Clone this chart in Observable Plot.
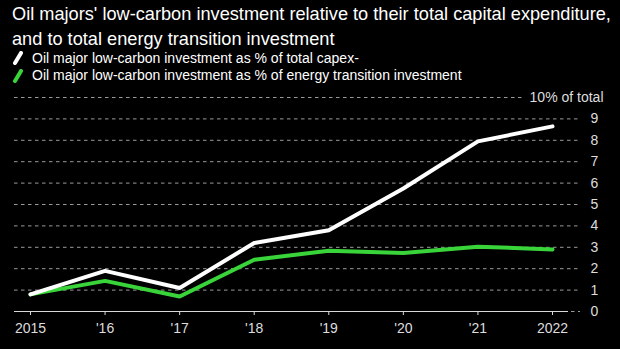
<!DOCTYPE html>
<html>
<head>
<meta charset="utf-8">
<script src="https://cdn.jsdelivr.net/npm/d3@7"></script>
<script src="https://cdn.jsdelivr.net/npm/@observablehq/plot@0.6"></script>
<style>
  html, body { margin: 0; padding: 0; background: #000; }
  body { width: 620px; height: 349px; overflow: hidden; font-family: "Liberation Sans", Arial, sans-serif; color: #fff; }
  #title { position: absolute; left: 12px; top: 2px; font-size: 18.2px; line-height: 25px; color: #fff; }
  #legend { position: absolute; left: 13px; top: 49.5px; font-size: 14px; line-height: 17.5px; color: #fff; }
  .row { display: flex; align-items: center; white-space: nowrap; }
  .row svg { margin-right: 9px; }
  #chart { position: absolute; left: 0; top: 85px; }
</style>
</head>
<body>
<div id="title">Oil majors' low-carbon investment relative to their total capital expenditure,<br>and to total energy transition investment</div>
<div id="legend"></div>
<div id="chart"></div>
<script>
const years = [2015, 2016, 2017, 2018, 2019, 2020, 2021, 2022];
const shareOfCapex = [0.8, 1.9, 1.1, 3.2, 3.8, 5.75, 7.95, 8.65];
const shareOfTransition = [0.8, 1.43, 0.7, 2.42, 2.84, 2.73, 3.03, 2.9];
const seriesNames = [
  "Oil major low-carbon investment as % of total capex-",
  "Oil major low-carbon investment as % of energy transition investment"
];
const seriesColors = ["#ffffff", "#39d43a"];
const yTicks = [0, 1, 2, 3, 4, 5, 6, 7, 8, 9];
const xTickLabels = ["2015", "'16", "'17", "'18", "'19", "'20", "'21", "2022"];
const topLabel = "10% of total";

// legend
const legend = document.getElementById("legend");
seriesNames.forEach((name, i) => {
  const row = document.createElement("div");
  row.className = "row";
  row.innerHTML = `<svg width="10" height="14"><line x1="2" y1="12" x2="8" y2="2" stroke="${seriesColors[i]}" stroke-width="4" stroke-linecap="round"/></svg><span>${name}</span>`;
  legend.appendChild(row);
});

const data = [];
years.forEach((y, i) => {
  data.push({year: y, value: shareOfTransition[i], series: seriesNames[1]});
});
years.forEach((y, i) => {
  data.push({year: y, value: shareOfCapex[i], series: seriesNames[0]});
});

const chart = Plot.plot({
  width: 620,
  height: 264,
  marginLeft: 14,
  marginRight: 40,
  marginTop: 12,
  marginBottom: 38,
  style: {background: "#000", color: "#ddd", fontSize: "14px", fontFamily: "Liberation Sans, Arial, sans-serif"},
  x: {domain: [2015, 2022], insetLeft: 16, insetRight: 28, label: null},
  y: {domain: [0, 10], label: null},
  color: {domain: seriesNames, range: seriesColors},
  marks: [
    Plot.ruleY(yTicks.filter(d => d > 0), {stroke: "#9a9a9a", strokeWidth: 1, strokeDasharray: "3.5,3.5"}),
    Plot.ruleY([10], {stroke: "#9a9a9a", strokeWidth: 1, strokeDasharray: "3.5,3.5", insetRight: 57}),
    Plot.ruleY([0], {stroke: "#9a9a9a", strokeWidth: 1, strokeDasharray: "3.5,3.5", insetLeft: 557}),
    Plot.ruleY([0], {stroke: "#d9d9d9", strokeWidth: 1.2, insetRight: 12}),
    Plot.axisX(years, {
      tickSize: 4, tickPadding: 8, stroke: "#d9d9d9", label: null,
      tickFormat: d => xTickLabels[years.indexOf(d)], fill: "#ddd", fontSize: 14
    }),
    Plot.axisY(yTicks, {anchor: "right", tickSize: 0, tickPadding: 10, textAnchor: "start", fill: "#ddd", fontSize: 14, label: null}),
    Plot.text([topLabel], {frameAnchor: "right", y: () => 10, dx: 23, textAnchor: "end", fill: "#ddd", fontSize: 14}),
    Plot.line(data, {x: "year", y: "value", z: "series", stroke: "series", strokeWidth: 4, strokeLinecap: "round", strokeLinejoin: "miter"})
  ]
});
document.getElementById("chart").appendChild(chart);
</script>
</body>
</html>
